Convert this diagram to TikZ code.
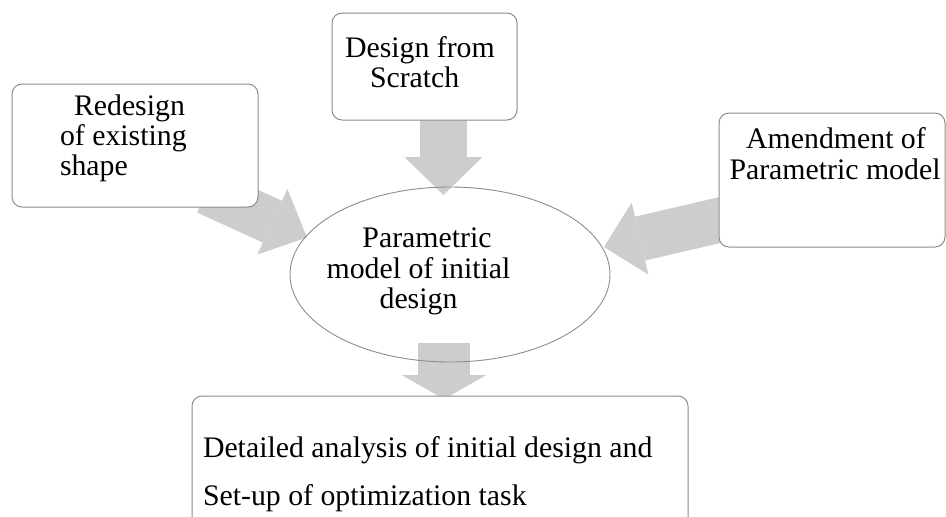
\documentclass[tikz,border=0pt]{standalone}
\usepackage{fontspec}
\setmainfont{Liberation Serif}
\usetikzlibrary{arrows.meta,backgrounds,shapes.geometric}
\definecolor{edgegray}{HTML}{8C8C8C}
\definecolor{arrowgray}{HTML}{CDCDCD}
\begin{document}
\begin{tikzpicture}[x=1pt,y=-1pt,
  box/.style={rectangle, draw=edgegray, line width=1pt, fill=white,
    rounded corners=10pt, inner sep=0pt, outer sep=0pt},
  oval/.style={ellipse, draw=edgegray, line width=0.9pt, inner sep=0pt, outer sep=0pt},
  txt/.style={inner sep=0pt, outer sep=0pt, text=black,
    font=\fontsize{29.8}{30}\selectfont},
  blockarrow/.style n args={3}{draw=arrowgray, line width=#1,
    arrows={-{Triangle[width=#2,length=#3,line width=0pt]}}}]

% page frame
\clip (0,0) rectangle (946,517);

% boxes and the central oval
\node[box, minimum width=246pt, minimum height=123pt] (redesign) at (135,145.5) {};
\node[box, minimum width=185pt, minimum height=107pt] (scratch) at (424.5,66.5) {};
\node[box, minimum width=226pt, minimum height=134pt] (amend) at (832,180) {};
\node[oval, minimum width=320pt, minimum height=175pt] (model) at (450,274.5) {};
\node[box, minimum width=496pt, minimum height=140pt] (analysis) at (440,466) {};

% box texts
\node[txt, anchor=base west] (redesign-1) at (74,115) {Redesign};
\node[txt, anchor=base west] (redesign-2) at (60,145) {of existing};
\node[txt, anchor=base west] (redesign-3) at (60,175) {shape};

\node[txt, anchor=base west] (scratch-1) at (345,57) {Design from};
\node[txt, anchor=base west] (scratch-2) at (370,87) {Scratch};

\node[txt, anchor=base] (amend-1) at (836,148) {Amendment of};
\node[txt, anchor=base] (amend-2) at (835,179) {Parametric model};

\node[txt, anchor=base] (model-1) at (427,247) {Parametric};
\node[txt, anchor=base] (model-2) at (418.5,278) {model of initial};
\node[txt, anchor=base] (model-3) at (418.5,308) {design};

\node[txt, anchor=base west] (analysis-1) at (203,457) {Detailed analysis of initial design and};
\node[txt, anchor=base west] (analysis-2) at (203,505) {Set-up of optimization task};

% arrow end points
\coordinate (from-scratch) at (443.5,100);
\coordinate (to-top) at (443.5,195);
\coordinate (from-redesign) at (206.7,191.6);
\coordinate (to-left) at (307,237.5);
\coordinate (from-amend) at (747,213.7);
\coordinate (to-right) at (604,247);
\coordinate (from-model) at (444,343);
\coordinate (to-analysis) at (444,399);

% block arrows, behind the boxes
\begin{scope}[on background layer]
  \draw[blockarrow={47pt}{78pt}{38pt}] (from-scratch) -- (to-top);
  \draw[blockarrow={46pt}{72pt}{38pt}] (from-redesign) -- (to-left);
  \draw[blockarrow={45pt}{74pt}{37pt}] (from-amend) -- (to-right);
  \draw[blockarrow={52pt}{85pt}{24pt}] (from-model) -- (to-analysis);
\end{scope}
\end{tikzpicture}
\end{document}
